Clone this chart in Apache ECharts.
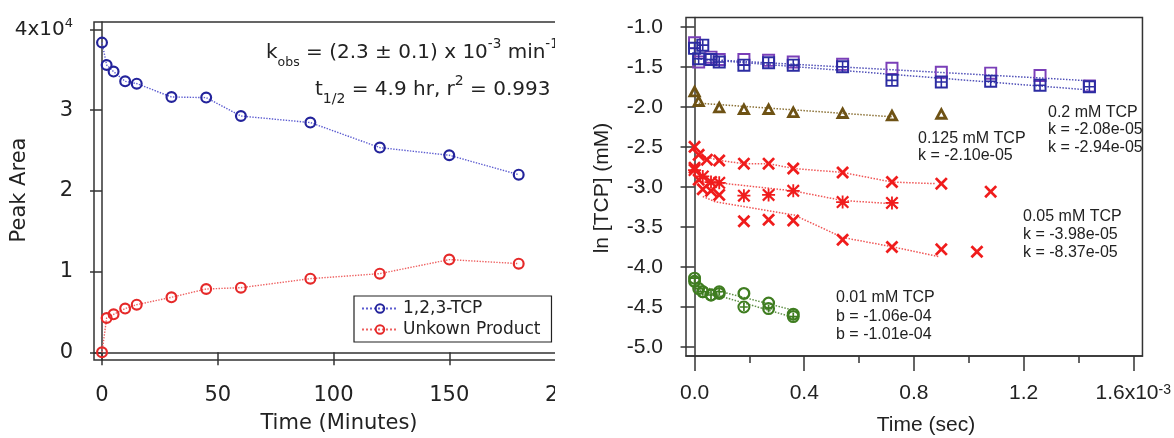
<!DOCTYPE html>
<html><head><meta charset="utf-8">
<script src="https://cdn.jsdelivr.net/npm/echarts@6/dist/echarts.min.js"></script>
<style>html,body{margin:0;padding:0;background:#fff}#c{width:1174px;height:438px}</style>
</head><body><div id="c"></div>
<script>
// ---------- Left panel data ----------
const minutes = [0, 2, 5, 10, 15, 30, 45, 60, 90, 120, 150, 180];
const tcpArea = [38350, 35580, 34760, 33560, 33270, 31620, 31540, 29260, 28450, 25350, 24400, 22000];
const productArea = [0, 4250, 4700, 5410, 5900, 6810, 7840, 8000, 9120, 9740, 11480, 10980];
const leftYTicks = [0, 10000, 20000, 30000, 40000];
const leftXTicks = [0, 50, 100, 150, 200];

// ---------- Right panel data (time, ln[TCP]) ----------
const blueOpenT = [0, 0.015, 0.06, 0.09, 0.18, 0.27, 0.36, 0.54, 0.72, 0.90, 1.08, 1.26, 1.44];
const blueOpenY = [-1.20, -1.44, -1.38, -1.41, -1.41, -1.42, -1.44, -1.47, -1.52, -1.57, -1.58, -1.61, -1.74];
const blueGridT = [0, 0.015, 0.03, 0.06, 0.09, 0.18, 0.27, 0.36, 0.54, 0.72, 0.90, 1.08, 1.26, 1.44];
const blueGridY = [-1.27, -1.40, -1.23, -1.41, -1.44, -1.48, -1.45, -1.48, -1.50, -1.67, -1.69, -1.68, -1.73, -1.75];
const brownT = [0, 0.015, 0.09, 0.18, 0.27, 0.36, 0.54, 0.72, 0.90];
const brownY = [-1.80, -1.92, -2.00, -2.02, -2.02, -2.06, -2.07, -2.10, -2.08];
const redTopT = [0, 0.015, 0.045, 0.09, 0.18, 0.27, 0.36, 0.54, 0.72, 0.90, 1.08];
const redTopY = [-2.50, -2.60, -2.66, -2.67, -2.71, -2.71, -2.77, -2.82, -2.94, -2.96, -3.06];
const redStarT = [0, 0.03, 0.06, 0.09, 0.18, 0.27, 0.36, 0.54, 0.72];
const redStarY = [-2.79, -2.87, -2.94, -2.95, -3.11, -3.10, -3.05, -3.19, -3.20];
const redLowT = [0, 0.015, 0.03, 0.06, 0.09, 0.18, 0.27, 0.36, 0.54, 0.72, 0.90, 1.03];
const redLowY = [-2.76, -2.91, -3.03, -3.05, -3.10, -3.43, -3.41, -3.42, -3.66, -3.75, -3.78, -3.81];
const greenPlusT = [0, 0.015, 0.03, 0.06, 0.09, 0.18, 0.27, 0.36];
const greenPlusY = [-4.14, -4.27, -4.31, -4.35, -4.31, -4.50, -4.52, -4.62];
const greenOpenT = [0, 0.03, 0.06, 0.09, 0.18, 0.27, 0.36];
const greenOpenY = [-4.18, -4.31, -4.35, -4.33, -4.33, -4.45, -4.59];

// fitted lines (time, ln)
const fitBlueA = [[0, -1.40], [1.44, -1.675]];
const fitBlueB = [[0, -1.40], [1.44, -1.79]];
const fitBrown = [[0.015, -1.955], [0.72, -2.125]];
const fitRedTop = [[0.015, -2.60], [0.09, -2.67], [0.18, -2.71], [0.27, -2.71], [0.36, -2.77], [0.54, -2.82], [0.72, -2.94], [0.88, -2.96]];
const fitRedStar = [[0.03, -2.88], [0.09, -2.95], [0.36, -3.05], [0.54, -3.17], [0.72, -3.21]];
const fitRedLow = [[0.03, -3.12], [0.075, -3.185], [0.363, -3.351], [0.54, -3.632], [0.72, -3.747], [0.889, -3.87]];
const fitGreenA = [[0.02, -4.24], [0.36, -4.54]];
const fitGreenB = [[0.02, -4.29], [0.36, -4.63]];

const rightYTicks = [-5, -4.5, -4, -3.5, -3, -2.5, -2, -1.5, -1];
const rightXTicks = [0, 0.4, 0.8, 1.2, 1.6];
const rightXMinor = [0.2, 0.6, 1.0, 1.4];

// ---------- symbols ----------
const RING = 'path://M0 10A10 10 0 1 1 20 10A10 10 0 1 1 0 10Z M3.6 10A6.4 6.4 0 1 0 16.4 10A6.4 6.4 0 1 0 3.6 10Z';
const OPLUS = 'path://M0 10A10 10 0 1 1 20 10A10 10 0 1 1 0 10Z M3.2 10A6.8 6.8 0 1 0 16.8 10A6.8 6.8 0 1 0 3.2 10Z M8.7 4H11.3V8.7H16V11.3H11.3V16H8.7V11.3H4V8.7H8.7Z';
const GRIDSQ = 'path://M0 0H20V20H0Z M3 3V8.8H8.8V3Z M11.2 3V8.8H17V3Z M3 11.2V17H8.8V11.2Z M11.2 11.2V17H17V11.2Z';
const OPENSQ = 'path://M0 0H20V20H0Z M3 3V17H17V3Z';
const TRI = 'path://M10 0L20 18L0 18Z M10 8.2L6.8 14L13.2 14Z';
const XMK = 'path://M0 3L3 0L10 7L17 0L20 3L13 10L20 17L17 20L10 13L3 20L0 17L7 10Z';
const STAR = 'path://M0 2.4L2.4 0L10 7.6L17.6 0L20 2.4L12.4 10L20 17.6L17.6 20L10 12.4L2.4 20L0 17.6L7.6 10Z M8.6 0H11.4V8.6H20V11.4H11.4V20H8.6V11.4H0V8.6H8.6Z';

const LF = 'DejaVu Sans';
const RF = 'Liberation Sans';
const AX = '#333';
const zip = (t, y) => t.map((v, i) => [v, y[i]]);

const chart = echarts.init(document.getElementById('c'), null, {renderer: 'canvas'});

function scatter(name, t, y, sym, size, color) {
  return {type: 'scatter', name, xAxisIndex: 1, yAxisIndex: 1, data: zip(t, y), symbol: sym, symbolSize: size,
    itemStyle: {color, borderWidth: 0, opacity: 1}, z: 4};
}
function fit(data, color) {
  return {type: 'line', xAxisIndex: 1, yAxisIndex: 1, data, symbol: 'none', silent: true,
    lineStyle: {color, width: 1.5, type: 'dotted'}, z: 3};
}

const option = {
  animation: false,
  backgroundColor: '#fff',
  grid: [
    {left: 94, top: 22, width: 471, height: 338, show: true, borderColor: AX, borderWidth: 1.5},
    {left: 686, top: 17.5, width: 481, height: 338.5, show: true, borderColor: AX, borderWidth: 1.5}
  ],
  xAxis: [
    {type: 'value', gridIndex: 0, min: -3.46, max: 200,
      axisLine: {show: true, lineStyle: {color: AX, width: 1.5}},
      axisTick: {show: true, customValues: leftXTicks, length: 13, lineStyle: {color: AX, width: 1.5}},
      axisLabel: {customValues: leftXTicks, margin: 25, fontSize: 21, fontFamily: LF, color: '#222'},
      splitLine: {show: false}},
    {type: 'value', gridIndex: 1, min: -0.0312, max: 1.6336, position: 'bottom',
      axisLine: {show: true, lineStyle: {color: AX, width: 1.5}},
      axisTick: {show: true, customValues: rightXTicks, length: 15, lineStyle: {color: AX, width: 1.5}},
      axisLabel: {customValues: rightXTicks, margin: 27, fontSize: 21, fontFamily: RF, color: '#222',
        formatter: v => Math.abs(v - 1.6) < 1e-9 ? '1.6x10{s|-3}' : v.toFixed(1),
        rich: {s: {fontSize: 14, fontFamily: RF, verticalAlign: 'top', color: '#222'}}},
      splitLine: {show: false}},
    {type: 'value', gridIndex: 1, min: -0.0312, max: 1.6336, position: 'bottom',
      axisLine: {show: false},
      axisTick: {show: true, customValues: rightXMinor, length: 7, lineStyle: {color: AX, width: 1.5}},
      axisLabel: {show: false}, splitLine: {show: false}}
  ],
  yAxis: [
    {type: 'value', gridIndex: 0, min: -954, max: 40904,
      axisLine: {show: true, lineStyle: {color: AX, width: 1.5}},
      axisTick: {show: true, customValues: leftYTicks, length: 12, lineStyle: {color: AX, width: 1.5}},
      axisLabel: {customValues: leftYTicks, margin: 21, fontSize: 21, fontFamily: LF, color: '#222',
        formatter: v => v === 40000 ? '{a|4x10}{s|4}' : String(v / 10000),
        rich: {a: {fontSize: 20, fontFamily: LF, color: '#222', lineHeight: 24},
               s: {fontSize: 13, fontFamily: LF, color: '#222', verticalAlign: 'top'}}},
      splitLine: {show: false}},
    {type: 'value', gridIndex: 1, min: -5.112, max: -0.885,
      axisLine: {show: true, lineStyle: {color: AX, width: 1.5}},
      axisTick: {show: true, customValues: rightYTicks, length: 14, lineStyle: {color: AX, width: 1.5}},
      axisLabel: {customValues: rightYTicks, margin: 23, fontSize: 21, fontFamily: RF, color: '#222',
        formatter: v => v.toFixed(1)},
      splitLine: {show: false}}
  ],
  legend: {
    data: ['1,2,3-TCP', 'Unkown Product'], orient: 'vertical', left: 354, top: 296,
    padding: [4, 11, 4, 7], itemWidth: 36, itemHeight: 13, itemGap: 4,
    textStyle: {fontSize: 17, fontFamily: LF, color: '#222'},
    borderColor: '#222', borderWidth: 1.2, backgroundColor: '#fff', selectedMode: false
  },
  series: [
    {type: 'line', name: '1,2,3-TCP', xAxisIndex: 0, yAxisIndex: 0, data: zip(minutes, tcpArea),
      symbol: RING, symbolSize: 12, itemStyle: {color: '#23239b', borderWidth: 0},
      lineStyle: {color: '#5b5bd0', width: 1.4, type: 'dotted'}},
    {type: 'line', name: 'Unkown Product', xAxisIndex: 0, yAxisIndex: 0, data: zip(minutes, productArea),
      symbol: RING, symbolSize: 12, itemStyle: {color: '#e52929', borderWidth: 0},
      lineStyle: {color: '#ee6060', width: 1.4, type: 'dotted'}},

    fit(fitBlueA, '#5050b8'), fit(fitBlueB, '#5050b8'), fit(fitBrown, '#8a7035'),
    fit(fitRedTop, '#f05555'), fit(fitRedStar, '#f05555'), fit(fitRedLow, '#f05555'),
    fit(fitGreenA, '#5e8e45'), fit(fitGreenB, '#5e8e45'),

    scatter('0.2 mM A', blueOpenT, blueOpenY, OPENSQ, 13, '#7a3fb8'),
    scatter('0.2 mM B', blueGridT, blueGridY, GRIDSQ, 13, '#2c2ca2'),
    scatter('0.125 mM', brownT, brownY, TRI, [14, 13], '#6e5214'),
    scatter('0.05 top', redTopT, redTopY, XMK, 13, '#f01c1c'),
    scatter('0.05 star', redStarT, redStarY, STAR, 13, '#f01c1c'),
    scatter('0.05 low', redLowT, redLowY, XMK, 13, '#f01c1c'),
    scatter('0.01 open', greenOpenT, greenOpenY, RING, 13, '#3f7d20'),
    scatter('0.01 plus', greenPlusT, greenPlusY, OPLUS, 13, '#3f7d20')
  ],
  graphic: [
    // white mask for the cropped right edge of the left panel
    {type: 'rect', shape: {x: 555, y: 0, width: 40, height: 438}, style: {fill: '#fff'}, z: 100},
    // axis titles
    {type: 'text', x: 20, y: 190, rotation: Math.PI / 2, z: 101,
      style: {text: 'Peak Area', font: '21px "DejaVu Sans"', fill: '#222', textAlign: 'center', textVerticalAlign: 'middle'}},
    {type: 'text', x: 339, y: 424, z: 101,
      style: {text: 'Time (Minutes)', font: '21px "DejaVu Sans"', fill: '#222', textAlign: 'center', textVerticalAlign: 'middle'}},
    {type: 'text', x: 602, y: 188, rotation: Math.PI / 2, z: 101,
      style: {text: 'ln [TCP] (mM)', font: '21px "Liberation Sans"', fill: '#222', textAlign: 'center', textVerticalAlign: 'middle'}},
    {type: 'text', x: 926, y: 425, z: 101,
      style: {text: 'Time (sec)', font: '21px "Liberation Sans"', fill: '#222', textAlign: 'center', textVerticalAlign: 'middle'}},
    // left annotations
    {type: 'text', x: 266, y: 53, z: 99,
      style: {text: '{m|k}{sub|obs}{m| = (2.3 ± 0.1) x 10}{sup|-3}{m| min}{sup|-1}', textAlign: 'left', textVerticalAlign: 'middle',
        rich: {m: {fontSize: 20, fontFamily: LF, fill: '#222', lineHeight: 32},
               sub: {fontSize: 12.5, fontFamily: LF, fill: '#222', verticalAlign: 'bottom'},
               sup: {fontSize: 13.5, fontFamily: LF, fill: '#222', verticalAlign: 'top'}}}},
    {type: 'text', x: 315, y: 90, z: 99,
      style: {text: '{m|t}{sub|1/2}{m| = 4.9 hr, r}{sup|2}{m| = 0.993}', textAlign: 'left', textVerticalAlign: 'middle',
        rich: {m: {fontSize: 20, fontFamily: LF, fill: '#222', lineHeight: 32},
               sub: {fontSize: 14, fontFamily: LF, fill: '#222', verticalAlign: 'bottom'},
               sup: {fontSize: 14, fontFamily: LF, fill: '#222', verticalAlign: 'top'}}}},
    // right annotations
    ...[
      ['0.2 mM TCP', 1048, 113], ['k = -2.08e-05', 1048, 130], ['k = -2.94e-05', 1048, 147.5],
      ['0.125 mM TCP', 918, 139], ['k = -2.10e-05', 918, 156],
      ['0.05 mM TCP', 1023, 217], ['k = -3.98e-05', 1023, 235], ['k = -8.37e-05', 1023, 253],
      ['0.01 mM TCP', 836, 298], ['b = -1.06e-04', 836, 316.5], ['b = -1.01e-04', 836, 335]
    ].map(([t, x, y]) => ({type: 'text', x, y, z: 99,
      style: {text: t, font: '16px "Liberation Sans"', fill: '#222', textAlign: 'left', textVerticalAlign: 'middle'}}))
  ]
};
chart.setOption(option);
</script></body></html>
